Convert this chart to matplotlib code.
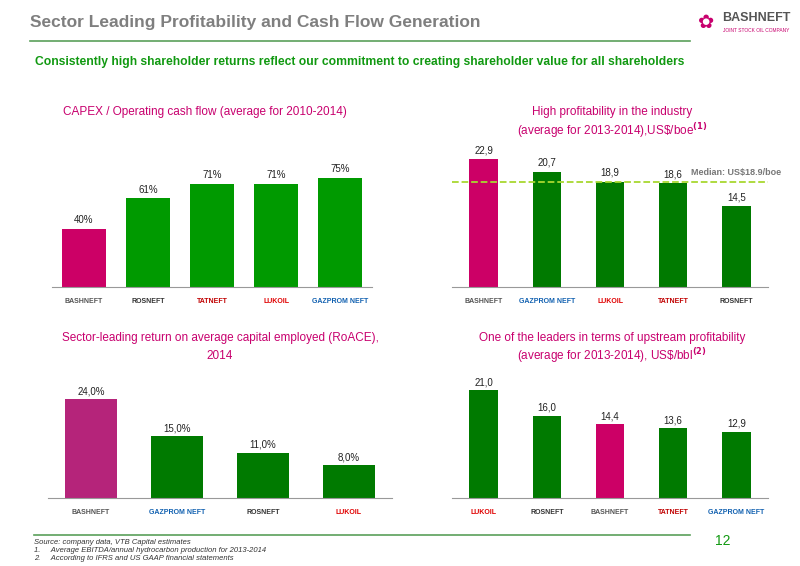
import matplotlib
matplotlib.use("Agg")
import matplotlib.pyplot as plt

plt.rcParams['font.family'] = ['Liberation Sans Narrow', 'Liberation Sans', 'DejaVu Sans']
plt.rcParams['mathtext.fontset'] = 'custom'
plt.rcParams['mathtext.rm'] = 'Liberation Sans'

c1_names = ["BASHNEFT", "ROSNEFT", "TATNEFT", "LUKOIL", "GAZPROM NEFT"]
c1_vals = [40, 61, 71, 71, 75]
c1_labels = ["40%", "61%", "71%", "71%", "75%"]

c2_names = ["BASHNEFT", "GAZPROM NEFT", "LUKOIL", "TATNEFT", "ROSNEFT"]
c2_vals = [22.9, 20.7, 18.9, 18.6, 14.5]
c2_median = 18.9

c3_names = ["BASHNEFT", "GAZPROM NEFT", "ROSNEFT", "LUKOIL"]
c3_vals = [24.0, 15.0, 11.0, 8.0]

c4_names = ["LUKOIL", "ROSNEFT", "BASHNEFT", "TATNEFT", "GAZPROM NEFT"]
c4_vals = [21.0, 16.0, 14.4, 13.6, 12.9]

W, H = 800, 566
fig = plt.figure(figsize=(8, 5.66), dpi=100)
MAG = "#CC0066"
GRN = "#009A00"
DGRN = "#007A00"
TCOL = "#C8006E"
logo_col = {"BASHNEFT": "#555555", "ROSNEFT": "#333333", "TATNEFT": "#C00000",
            "LUKOIL": "#E00000", "GAZPROM NEFT": "#1060B0"}

def ax_px(x0, x1, ytop, ybase):
    return fig.add_axes([x0 / W, 1 - ybase / H, (x1 - x0) / W, (ybase - ytop) / H])

def txt(x, y, s, **kw):
    fig.text(x / W, 1 - y / H, s, **kw)

def bar_chart(ax, names, vals, labels, colors, ymax, width):
    ax.bar(range(len(vals)), vals, color=colors, width=width)
    ax.set_ylim(0, ymax)
    ax.set_xlim(-0.5, len(vals) - 0.5)
    for s in ["top", "right", "left"]:
        ax.spines[s].set_visible(False)
    ax.spines["bottom"].set_color("#999999")
    ax.set_yticks([])
    ax.set_xticks(range(len(vals)))
    ax.set_xticklabels(names, fontsize=5, fontweight="bold")
    for t, n in zip(ax.get_xticklabels(), names):
        t.set_color(logo_col[n])
    ax.tick_params(axis="x", length=0, pad=8)
    for i, (v, l) in enumerate(zip(vals, labels)):
        ax.text(i, v + ymax * 0.025, l, ha="center", va="bottom", fontsize=7, color="#222222")

# header
txt(30, 22, "Sector Leading Profitability and Cash Flow Generation", fontsize=12.5, fontweight="bold", color="#7F7F7F", va="center")
txt(722, 18, "BASHNEFT", fontsize=9, fontweight="bold", color="#555555", va="center")
txt(723, 30, "JOINT STOCK OIL COMPANY", fontsize=3.5, color="#C8006E", va="center")
txt(706, 22, "✿", fontsize=14, color="#C8006E", va="center", ha="center", family=["DejaVu Sans"])
fig.add_artist(plt.Line2D([30 / W, 690 / W], [1 - 41 / H, 1 - 41 / H], color="#5AA05A", lw=1.2))
txt(35, 62, "Consistently high shareholder returns reflect our commitment to creating shareholder value for all shareholders",
    fontsize=8.7, fontweight="bold", color="#119911", va="center")

# chart 1
txt(205, 112, "CAPEX / Operating cash flow (average for 2010-2014)", fontsize=8.5, color=TCOL, ha="center", va="center")
ax1 = ax_px(52, 372, 150, 287)
bar_chart(ax1, c1_names, c1_vals, c1_labels, [MAG] + [GRN] * 4, 94, 0.68)

# chart 2
txt(612, 112, "High profitability in the industry", fontsize=8.5, color=TCOL, ha="center", va="center")
txt(612, 131, r"(average for 2013-2014),US\$/boe$^{\mathbf{(1)}}$", fontsize=8.5, color=TCOL, ha="center", va="center")
ax2 = ax_px(452, 768, 131, 287)
bar_chart(ax2, c2_names, c2_vals, [f"{v:.1f}".replace(".", ",") for v in c2_vals], [MAG] + [DGRN] * 4, 28, 0.45)
ax2.axhline(c2_median, color="#A8D830", ls="--", lw=1.3)
ax2.text(4.0, 20.6, "Median: US$18.9/boe", fontsize=6.5, fontweight="bold", color="#777777", ha="center", va="center")

# chart 3
txt(220, 338, "Sector-leading return on average capital employed (RoACE),", fontsize=8.5, color=TCOL, ha="center", va="center")
txt(220, 356, "2014", fontsize=8.5, color=TCOL, ha="center", va="center")
ax3 = ax_px(48, 392, 383, 498)
bar_chart(ax3, c3_names, c3_vals, [f"{v:.1f}%".replace(".", ",") for v in c3_vals], ["#B5247A"] + [DGRN] * 3, 28, 0.6)

# chart 4
txt(612, 338, "One of the leaders in terms of upstream profitability", fontsize=8.5, color=TCOL, ha="center", va="center")
txt(612, 356, r"(average for 2013-2014), US\$/bbl$^{\mathbf{(2)}}$", fontsize=8.5, color=TCOL, ha="center", va="center")
ax4 = ax_px(452, 768, 370, 498)
bar_chart(ax4, c4_names, c4_vals, [f"{v:.1f}".replace(".", ",") for v in c4_vals],
          [DGRN, DGRN, MAG, DGRN, DGRN], 25, 0.45)

# footer
fig.add_artist(plt.Line2D([34 / W, 690 / W], [1 - 535 / H, 1 - 535 / H], color="#5AA05A", lw=1.2))
txt(715, 541, "12", fontsize=10, color="#119911", va="center")
txt(34, 543, "Source: company data, VTB Capital estimates", fontsize=5.5, style="italic", color="#333333", va="center")
txt(34, 551, "1.     Average EBITDA/annual hydrocarbon production for 2013-2014", fontsize=5.5, style="italic", color="#333333", va="center")
txt(34, 559, "2.     According to IFRS and US GAAP financial statements", fontsize=5.5, style="italic", color="#333333", va="center")

fig.savefig("out.png", dpi=100, facecolor="white")
